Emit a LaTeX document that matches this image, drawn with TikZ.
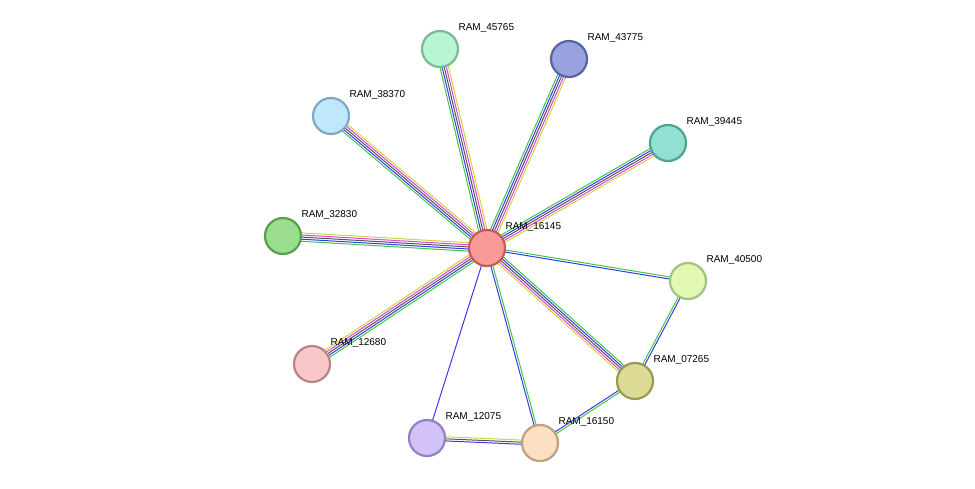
\documentclass[tikz,border=0pt]{standalone}
\usepackage{fontspec}
\setmainfont{Liberation Sans}
\usetikzlibrary{calc,backgrounds}
\definecolor{eyel}{HTML}{C8D838}
\definecolor{emag}{HTML}{E040E0}
\definecolor{eblk}{HTML}{555555}
\definecolor{eblu}{HTML}{3838F0}
\definecolor{egrn}{HTML}{40C840}
\newcommand{\ed}[4]{% n, a, b, colors
  \foreach \c [count=\i] in {#4}{%
    \pgfmathsetmacro{\o}{2.1*(\i-1)-1.05*(#1-1)}%
    \draw[draw=\c,line width=1pt] ($(#2)!\o pt!90:(#3)$) -- ($(#3)!\o pt!-90:(#2)$);%
  }}
\tikzset{prot/.style={circle,minimum size=36pt,inner sep=0pt,line width=2.2pt},
  lab/.style={font=\fontsize{10}{12}\selectfont,anchor=west}}
\begin{document}
\begin{tikzpicture}[x=1pt,y=-1pt]
\useasboundingbox (0,0) rectangle (975,489);
\newcommand{\prot}[6]{%
  \definecolor{f#1}{HTML}{#5}\definecolor{d#1}{HTML}{#6}%
  \node[prot,fill=f#1,draw=d#1] (#1) at (#2,#3) {};
  \node[lab] (l#1) at (#2+15,#3-21) {#4};}
\prot{c}{487}{248}{RAM\_16145}{F99A98}{C85A5A}
\prot{a}{440}{49}{RAM\_45765}{B6F6D2}{7BB898}
\prot{b}{569}{59}{RAM\_43775}{98A2E0}{5A64A0}
\prot{d}{331}{116}{RAM\_38370}{C0E8FA}{80A8C4}
\prot{e}{668}{143}{RAM\_39445}{92E0D4}{50A094}
\prot{f}{283}{236}{RAM\_32830}{9CDE90}{5C9E50}
\prot{g}{688}{281}{RAM\_40500}{E2F8B4}{A2C280}
\prot{h}{312}{364}{RAM\_12680}{F8C8C8}{B88484}
\prot{i}{635}{381}{RAM\_07265}{DCDC96}{9A9A52}
\prot{j}{427}{438}{RAM\_12075}{D2C2F8}{9282C2}
\prot{k}{540}{443}{RAM\_16150}{FDE0C2}{C0A080}
\begin{scope}[on background layer]
\foreach \t in {a,b,d,e,f,h,i}{\ed{5}{c}{\t}{eyel,emag,eblk,eblu,egrn}}
\ed{2}{c}{g}{eblu,egrn}
\ed{1}{c}{j}{eblu}
\ed{2}{c}{k}{eblu,egrn}
\ed{2}{g}{i}{egrn,eblu}
\ed{2}{k}{i}{egrn,eblu}
\ed{3}{j}{k}{eblu,eblk,eyel}
\end{scope}
\end{tikzpicture}
\end{document}
